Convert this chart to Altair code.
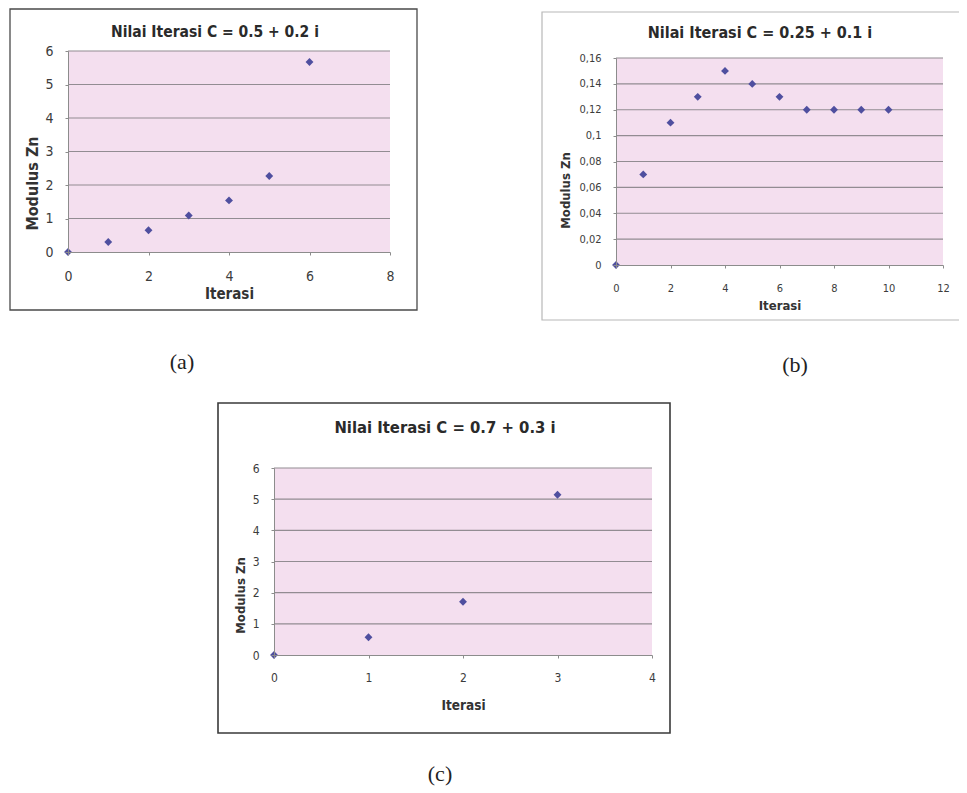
import altair as alt
import pandas as pd

# ---------------- data ----------------
iter_a = [0, 1, 2, 3, 4, 5, 6]
mod_a = [0, 0.30, 0.65, 1.09, 1.54, 2.27, 5.67]
iter_b = [0, 1, 2, 3, 4, 5, 6, 7, 8, 9, 10]
mod_b = [0, 0.07, 0.11, 0.13, 0.15, 0.14, 0.13, 0.12, 0.12, 0.12, 0.12]
iter_c = [0, 1, 2, 3]
mod_c = [0, 0.57, 1.71, 5.14]

xticks_a = [0, 2, 4, 6, 8]
yticks_a = [0, 1, 2, 3, 4, 5, 6]
xticks_b = [0, 2, 4, 6, 8, 10, 12]
yticks_b = [0, 0.02, 0.04, 0.06, 0.08, 0.1, 0.12, 0.14, 0.16]
xticks_c = [0, 1, 2, 3, 4]
yticks_c = [0, 1, 2, 3, 4, 5, 6]

title_a = "Nilai Iterasi C  =  0.5  +  0.2  i"
title_b = "Nilai Iterasi C  =  0.25  +  0.1  i"
title_c = "Nilai Iterasi C  =  0.7  +  0.3  i"
x_title = "Iterasi"
y_title = "Modulus Zn"
captions = ["(a)", "(b)", "(c)"]

# ---------------- style ----------------
W, H = 951, 785
NARROW = "Liberation Sans Narrow, Arial Narrow, DejaVu Sans Condensed, sans-serif"
SERIF = "Liberation Serif, Times New Roman, serif"
PINK = "#f4dfef"
GRID = "#928c92"
DOT = "#4f4f9f"
dummy = pd.DataFrame({"k": [0]})


def panel(xs, ys, xticks, yticks, xrange, yrange, lab_size, xttl_size, yttl_size,
          xtitle_y, ytitle_x, ytitle_y, ylabel_expr=None):
    xdom = [xticks[0], xticks[-1]]
    ydom = [yticks[0], yticks[-1]]
    xscale = alt.Scale(domain=xdom, range=xrange, nice=False, zero=False)
    yscale = alt.Scale(domain=ydom, range=yrange, nice=False, zero=False)
    x_off = yrange[0] - H
    y_off = -xrange[0]
    yaxis_kw = dict(
        values=yticks, orient="left", offset=y_off, grid=False,
        domainColor="#8c8c8c", tickColor="#8c8c8c", tickSize=3,
        labelPadding=12, labelFont=NARROW, labelFontSize=lab_size,
        labelColor="#3c3c3c", title=y_title, titleFont=NARROW,
        titleFontSize=yttl_size, titleFontWeight="bold", titleColor="#333333",
        titleX=ytitle_x, titleY=ytitle_y, titleAngle=-90,
        titleBaseline="middle", titleAlign="center", zindex=1,
        labelOverlap=False, labelFlush=False,
    )
    if ylabel_expr:
        yaxis_kw["labelExpr"] = ylabel_expr
    yaxis = alt.Axis(**yaxis_kw)
    xaxis = alt.Axis(
        values=xticks, orient="bottom", offset=x_off, grid=False,
        domainColor="#8c8c8c", tickColor="#8c8c8c", tickSize=3,
        labelPadding=14, labelFont=NARROW, labelFontSize=lab_size,
        labelColor="#3c3c3c", title=x_title, titleFont=NARROW,
        titleFontSize=xttl_size, titleFontWeight="bold", titleColor="#333333",
        titleY=xtitle_y, titleBaseline="middle", zindex=1,
        labelOverlap=False, labelFlush=False,
    )
    bg = alt.Chart(dummy).mark_rect(color=PINK).encode(
        x=alt.XDatum(xdom[0], type="quantitative", scale=xscale, axis=xaxis),
        x2=alt.X2Datum(xdom[1]),
        y=alt.YDatum(ydom[0], type="quantitative", scale=yscale, axis=yaxis),
        y2=alt.Y2Datum(ydom[1]),
    )
    grid = alt.Chart(pd.DataFrame({"g": yticks[1:]})).mark_rule(
        color=GRID, strokeWidth=1.1
    ).encode(
        y=alt.Y("g:Q", scale=yscale, axis=yaxis),
        x=alt.XDatum(xdom[0], type="quantitative", scale=xscale, axis=xaxis),
        x2=alt.X2Datum(xdom[1]),
    )
    pts = alt.Chart(pd.DataFrame({"iter": xs, "mod": ys})).mark_point(
        shape="diamond", filled=True, size=62, color=DOT, opacity=1
    ).encode(
        x=alt.X("iter:Q", scale=xscale, axis=xaxis),
        y=alt.Y("mod:Q", scale=yscale, axis=yaxis),
    )
    return alt.layer(bg, grid, pts)


def frame(x1, x2, y1, y2, color, sw):
    return alt.Chart(dummy).mark_rect(fillOpacity=0, stroke=color, strokeWidth=sw).encode(
        x=alt.value(x1), x2=alt.value(x2), y=alt.value(y1), y2=alt.value(y2)
    )


def label(text, x, y, size, font, weight="normal", color="#2a2a2a"):
    return alt.Chart(dummy).mark_text(
        font=font, fontSize=size, fontWeight=weight, color=color,
        align="center", baseline="middle"
    ).encode(x=alt.value(x), y=alt.value(y), text=alt.value(text))


pa = panel(iter_a, mod_a, xticks_a, yticks_a, [60, 382], [244, 43], 14, 15, 16,
           41, -36, 175)
pb = panel(iter_b, mod_b, xticks_b, yticks_b, [608, 935], [257, 50], 11, 13, 13,
           40, -51, 182,
           ylabel_expr="replace(toString(datum.value), '.', ',')")
pc = panel(iter_c, mod_c, xticks_c, yticks_c, [266, 644], [647, 460], 12, 13.5, 13,
           50, -34, 587)

layers = [
    frame(2, 409, 1, 302, "#4a4a4a", 1.3),
    frame(534, 970, 4, 312, "#b8b8b8", 1.2),
    frame(210, 662, 395, 725, "#3a3a3a", 1.6),
    pa, pb, pc,
    label(title_a, 207, 24, 15.5, NARROW, "bold"),
    label(title_b, 752, 25, 16, NARROW, "bold"),
    label(title_c, 437, 420, 16.5, NARROW, "bold"),
    label(captions[0], 174, 354, 22, SERIF, color="#222222"),
    label(captions[1], 787, 357, 22, SERIF, color="#222222"),
    label(captions[2], 432, 766, 22, SERIF, color="#222222"),
]

chart = alt.layer(*layers).resolve_scale(
    x="independent", y="independent"
).resolve_axis(
    x="independent", y="independent"
).properties(
    width=W, height=H, padding=0,
    autosize=alt.AutoSizeParams(type="none"),
    background="white",
).configure_view(strokeWidth=0)

chart.save("out.html", embed_options={"renderer": "svg", "actions": False})
